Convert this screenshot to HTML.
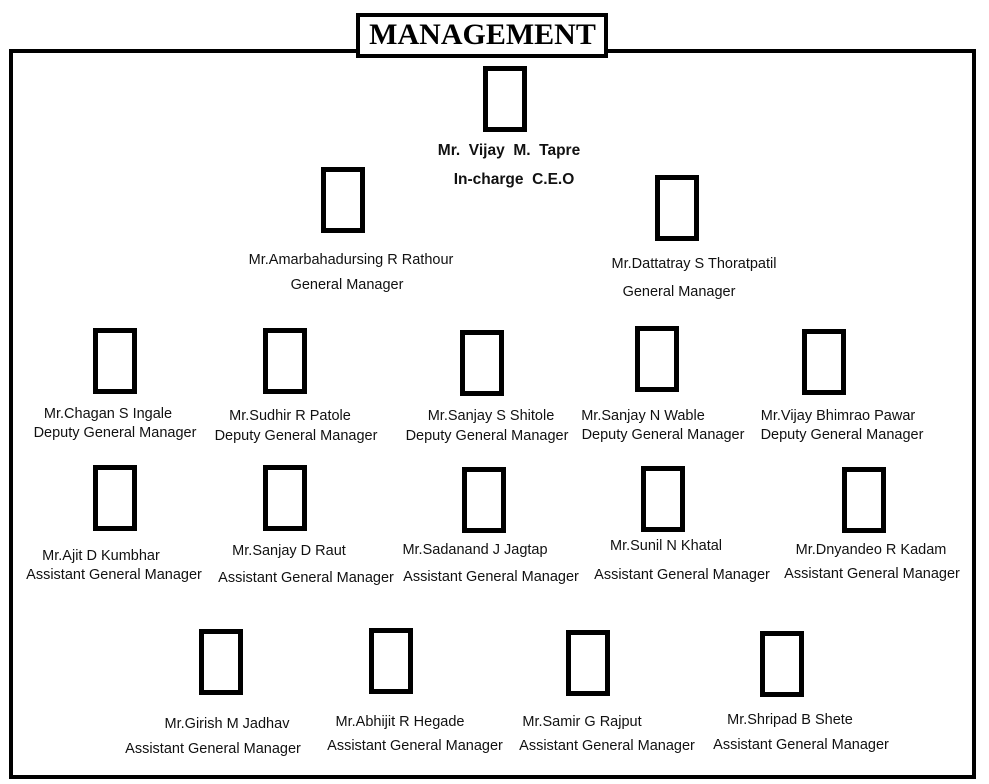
<!DOCTYPE html>
<html><head><style>
body{margin:0;width:989px;height:784px;background:#fff;position:relative;overflow:hidden;font-family:"Liberation Sans",sans-serif;}
.b{position:absolute;width:34px;height:56px;border:5px solid #000;}
.t{position:absolute;transform:translateX(-50%);white-space:nowrap;font-size:14.5px;color:#111;}
</style></head><body>
<div style="position:absolute;left:9px;top:49px;width:959px;height:722px;border:4px solid #000;"></div>
<div style="position:absolute;left:356px;top:13px;width:244px;height:37px;border:4px solid #000;background:#fff;"></div>
<div style="position:absolute;left:357px;top:17px;width:251px;text-align:center;font-family:'Liberation Serif',serif;font-weight:bold;font-size:30px;line-height:36px;">MANAGEMENT</div>

<div class="b" style="left:483px;top:66px"></div>
<div class="t" style="left:509px;top:142px;font-weight:bold;font-size:15.5px;">Mr.&nbsp; Vijay&nbsp; M.&nbsp; Tapre</div>
<div class="t" style="left:514px;top:171px;font-weight:bold;font-size:15.5px;">In-charge&nbsp; C.E.O</div>

<div class="b" style="left:321px;top:167px"></div>
<div class="t" style="left:351px;top:252px">Mr.Amarbahadursing R Rathour</div>
<div class="t" style="left:347px;top:277px">General Manager</div>
<div class="b" style="left:655px;top:175px"></div>
<div class="t" style="left:694px;top:256px">Mr.Dattatray S Thoratpatil</div>
<div class="t" style="left:679px;top:284px">General Manager</div>

<div class="b" style="left:93px;top:328px"></div>
<div class="t" style="left:108px;top:406px">Mr.Chagan S Ingale</div>
<div class="t" style="left:115px;top:425px">Deputy General Manager</div>
<div class="b" style="left:263px;top:328px"></div>
<div class="t" style="left:290px;top:408px">Mr.Sudhir R Patole</div>
<div class="t" style="left:296px;top:428px">Deputy General Manager</div>
<div class="b" style="left:460px;top:330px"></div>
<div class="t" style="left:491px;top:408px">Mr.Sanjay S Shitole</div>
<div class="t" style="left:487px;top:428px">Deputy General Manager</div>
<div class="b" style="left:635px;top:326px"></div>
<div class="t" style="left:643px;top:408px">Mr.Sanjay N Wable</div>
<div class="t" style="left:663px;top:427px">Deputy General Manager</div>
<div class="b" style="left:802px;top:329px"></div>
<div class="t" style="left:838px;top:408px">Mr.Vijay Bhimrao Pawar</div>
<div class="t" style="left:842px;top:427px">Deputy General Manager</div>

<div class="b" style="left:93px;top:465px"></div>
<div class="t" style="left:101px;top:548px">Mr.Ajit D Kumbhar</div>
<div class="t" style="left:114px;top:567px">Assistant General Manager</div>
<div class="b" style="left:263px;top:465px"></div>
<div class="t" style="left:289px;top:543px">Mr.Sanjay D Raut</div>
<div class="t" style="left:306px;top:570px">Assistant General Manager</div>
<div class="b" style="left:462px;top:467px"></div>
<div class="t" style="left:475px;top:542px">Mr.Sadanand J Jagtap</div>
<div class="t" style="left:491px;top:569px">Assistant General Manager</div>
<div class="b" style="left:641px;top:466px"></div>
<div class="t" style="left:666px;top:538px">Mr.Sunil N Khatal</div>
<div class="t" style="left:682px;top:567px">Assistant General Manager</div>
<div class="b" style="left:842px;top:467px"></div>
<div class="t" style="left:871px;top:542px">Mr.Dnyandeo R Kadam</div>
<div class="t" style="left:872px;top:566px">Assistant General Manager</div>

<div class="b" style="left:199px;top:629px"></div>
<div class="t" style="left:227px;top:716px">Mr.Girish M Jadhav</div>
<div class="t" style="left:213px;top:741px">Assistant General Manager</div>
<div class="b" style="left:369px;top:628px"></div>
<div class="t" style="left:400px;top:714px">Mr.Abhijit R Hegade</div>
<div class="t" style="left:415px;top:738px">Assistant General Manager</div>
<div class="b" style="left:566px;top:630px"></div>
<div class="t" style="left:582px;top:714px">Mr.Samir G Rajput</div>
<div class="t" style="left:607px;top:738px">Assistant General Manager</div>
<div class="b" style="left:760px;top:631px"></div>
<div class="t" style="left:790px;top:712px">Mr.Shripad B Shete</div>
<div class="t" style="left:801px;top:737px">Assistant General Manager</div>
</body></html>
